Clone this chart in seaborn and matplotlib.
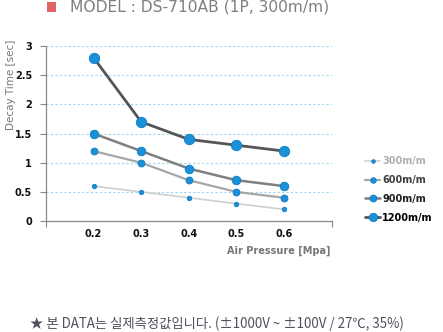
import matplotlib
matplotlib.use("Agg")
import matplotlib.pyplot as plt
import seaborn as sns
import pandas as pd
from matplotlib.patches import Rectangle

pressure = [0.2, 0.3, 0.4, 0.5, 0.6]
series_names = ["300m/m", "600m/m", "900m/m", "1200m/m"]
v300 = [0.6, 0.5, 0.4, 0.3, 0.2]
v600 = [1.2, 1.0, 0.7, 0.5, 0.4]
v900 = [1.5, 1.2, 0.9, 0.7, 0.6]
v1200 = [2.8, 1.7, 1.4, 1.3, 1.2]
y_ticks = [0, 0.5, 1, 1.5, 2, 2.5, 3]
y_tick_labels = ["0", "0.5", "1", "1.5", "2", "2.5", "3"]

sns.set_style("white")
plt.rcParams['font.family'] = ['DejaVu Sans', 'Noto Sans CJK KR']

df = pd.DataFrame({
    "pressure": pressure * 4,
    "value": v300 + v600 + v900 + v1200,
    "series": sum([[n] * 5 for n in series_names], []),
})

line_colors = ["#cfcfcf", "#a6a6a6", "#7f7f7f", "#555555"]
marker_sizes = [3.2, 5, 6.2, 7.5]
line_widths = [1.2, 1.6, 1.8, 2.0]
label_colors = ["#b0b0b0", "#404040", "#202020", "#000000"]

fig = plt.figure(figsize=(4.43, 3.32), dpi=100)
ax = fig.add_axes([0.1038, 0.334, 0.645, 0.5274])

for i, name in enumerate(series_names):
    sub = df[df.series == name]
    sns.lineplot(data=sub, x="pressure", y="value", ax=ax, color=line_colors[i],
                 linewidth=line_widths[i], marker="o", markersize=marker_sizes[i],
                 markerfacecolor="#1a90d8", markeredgecolor="#0f7cc4", markeredgewidth=0.6,
                 label=name, zorder=3 + i)

ax.set_xlim(0.1, 0.7)
ax.set_ylim(0, 3)
ax.set_xticks(pressure)
ax.set_xticklabels([f"{p:.1f}" for p in pressure], fontsize=7, fontweight="bold", color="#111111")
ax.set_yticks(y_ticks)
ax.set_yticklabels(y_tick_labels, fontsize=7, fontweight="bold", color="#111111")
ax.tick_params(axis="x", length=0, pad=6)
ax.tick_params(axis="y", length=4, width=0.8, color="#888888", direction="out", left=True, pad=6)
ax.set_xticks([0.1, 0.7], minor=True)
ax.tick_params(axis="x", which="minor", length=4, width=0.8, color="#888888", bottom=True)

for y in y_ticks[1:]:
    ax.axhline(y, color="#9fd6ee", linestyle=(0, (2, 2)), linewidth=0.8, zorder=1)

for s in ["top", "right"]:
    ax.spines[s].set_visible(False)
for s in ["left", "bottom"]:
    ax.spines[s].set_color("#888888")
    ax.spines[s].set_linewidth(0.9)

ax.set_xlabel("")
ax.set_ylabel("")
fig.text(0.745, 0.245, "Air Pressure [Mpa]", ha="right", va="center", fontsize=7,
         fontweight="bold", color="#777777")
fig.text(0.025, 0.745, "Decay Time [sec]", rotation=90, ha="center", va="center",
         fontsize=7.5, color="#777777")

leg = ax.legend(loc="upper left", bbox_to_anchor=(1.085, 0.42), frameon=False,
                fontsize=7, handlelength=1.6, handletextpad=0.2, labelspacing=0.9,
                markerscale=0.8)
for t, c in zip(leg.get_texts(), label_colors):
    t.set_color(c)
    t.set_fontweight("bold")

fig.patches.append(Rectangle((0.106, 0.964), 0.021, 0.03, transform=fig.transFigure,
                             facecolor="#e06666", edgecolor="none"))
fig.text(0.158, 0.978, "MODEL : DS-710AB (1P, 300m/m)", ha="left", va="center",
         fontsize=11.2, color="#808080")
fig.text(0.068, 0.025, "★ 본 DATA는 실제측정값입니다. (±1000V ~ ±100V / 27℃, 35%)", ha="left",
         va="center", fontsize=9.6, color="#505060",
         family=["Noto Sans CJK KR", "DejaVu Sans"])

fig.savefig("out.png", dpi=100)
